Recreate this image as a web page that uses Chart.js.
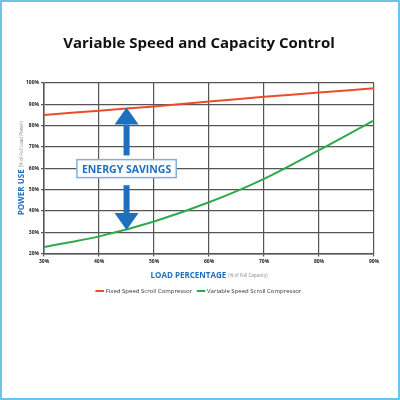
<!DOCTYPE html>
<html>
<head>
<script src="https://cdn.jsdelivr.net/npm/chart.js@4"></script>
<style>
  html, body { margin: 0; padding: 0; background: #fff; }
  #wrap { position: relative; width: 396px; height: 396px; border: 2px solid #6cc3ec; }
</style>
</head>
<body>
<div id="wrap"><canvas id="chart" width="396" height="396"></canvas></div>
<script>
const loadLabels = [30, 40, 50, 60, 70, 80, 90];
const fixedSpeed = [85, 87, 89, 91.3, 93.5, 95.5, 97.5];
const variableSpeed = [23, 28, 35, 44, 55, 68.5, 82.5];

const blue = "#1f6fc0";

// axis titles, arrows and the "energy savings" box
const extras = {
  id: "extras",
  afterDraw(chart) {
    const { ctx, scales: { x, y }, chartArea } = chart;
    ctx.save();

    // y axis title
    ctx.translate(chartArea.left - 22, (chartArea.top + chartArea.bottom) / 2);
    ctx.rotate(-Math.PI / 2);
    ctx.textBaseline = "middle";
    const t1 = "POWER USE ";
    const t2 = "(% of Full Load Power)";
    ctx.font = "4.5px 'Open Sans'";
    const w2 = ctx.measureText(t2).width;
    ctx.font = "bold 8px 'Open Sans'";
    const w1 = ctx.measureText(t1).width;
    let sx = -(w1 + w2) / 2;
    ctx.fillStyle = blue;
    ctx.fillText(t1, sx, 0);
    ctx.font = "4.5px 'Open Sans'";
    ctx.fillStyle = "#888";
    ctx.fillText(t2, sx + w1, 0);
    ctx.setTransform(1, 0, 0, 1, 0, 0);

    // x axis title
    const xt1 = "LOAD PERCENTAGE ";
    const xt2 = "(% of Full Capacity)";
    ctx.font = "bold 8px 'Open Sans'";
    const xw1 = ctx.measureText(xt1).width;
    ctx.font = "4.5px 'Open Sans'";
    const xw2 = ctx.measureText(xt2).width;
    let xs = (chartArea.left + chartArea.right) / 2 - (xw1 + xw2) / 2;
    const yy = chartArea.bottom + 22;
    ctx.font = "bold 8px 'Open Sans'";
    ctx.fillStyle = blue;
    ctx.fillText(xt1, xs, yy);
    ctx.font = "4.5px 'Open Sans'";
    ctx.fillStyle = "#888";
    ctx.fillText(xt2, xs + xw1, yy);

    // arrows
    const ax = x.getPixelForValue(45);
    ctx.fillStyle = blue;
    function arrow(yTip, yEnd) {
      const dir = yEnd > yTip ? 1 : -1;
      const head = 17;
      ctx.fillRect(ax - 3, Math.min(yTip + dir * head, yEnd), 6, Math.abs(yEnd - yTip) - head);
      ctx.beginPath();
      ctx.moveTo(ax, yTip);
      ctx.lineTo(ax - 12, yTip + dir * head);
      ctx.lineTo(ax + 12, yTip + dir * head);
      ctx.closePath();
      ctx.fill();
    }
    arrow(y.getPixelForValue(88.5), y.getPixelForValue(66));
    arrow(y.getPixelForValue(31), y.getPixelForValue(52));

    // energy savings box
    const bx = x.getPixelForValue(45), by = y.getPixelForValue(59.8);
    ctx.font = "bold 10.5px 'Open Sans'";
    const label = "ENERGY SAVINGS";
    const lw = ctx.measureText(label).width + 10;
    ctx.fillStyle = "#fff";
    ctx.fillRect(bx - lw / 2, by - 9, lw, 18);
    ctx.strokeStyle = "#7fb0de";
    ctx.lineWidth = 1.5;
    ctx.strokeRect(bx - lw / 2, by - 9, lw, 18);
    ctx.fillStyle = blue;
    ctx.textAlign = "center";
    ctx.textBaseline = "middle";
    ctx.fillText(label, bx, by + 1);
    ctx.restore();
  }
};

new Chart(document.getElementById("chart"), {
  type: "line",
  data: {
    labels: loadLabels,
    datasets: [
      { label: "Fixed Speed Scroll Compressor", data: fixedSpeed, borderColor: "#ee4b2b", backgroundColor: "#ee4b2b", borderWidth: 2, pointRadius: 0, tension: 0.4 },
      { label: "Variable Speed Scroll Compressor", data: variableSpeed, borderColor: "#2eaa4a", backgroundColor: "#2eaa4a", borderWidth: 2, pointRadius: 0, tension: 0.4 }
    ]
  },
  options: {
    responsive: false,
    animation: false,
    layout: { padding: { left: 22, right: 24, top: 0, bottom: 94 } },
    plugins: {
      title: {
        display: true,
        text: "Variable Speed and Capacity Control",
        color: "#111",
        font: { family: "'Open Sans'", size: 15, weight: "bold" },
        padding: { top: 33, bottom: 30 }
      },
      legend: {
        position: "bottom",
        labels: {
          usePointStyle: true,
          pointStyle: "line",
          boxWidth: 14,
          color: "#333",
          font: { family: "'Open Sans'", size: 6 },
          padding: 6
        }
      },
      tooltip: { enabled: false }
    },
    scales: {
      x: {
        type: "linear",
        min: 30, max: 90,
        title: { display: true, text: " ", font: { size: 8 }, padding: { top: 3, bottom: 3 } },
        grid: { color: "#555", lineWidth: 1.2, tickLength: 3 },
        border: { color: "#555", width: 1.5 },
        ticks: { stepSize: 10, color: "#222", font: { family: "'Open Sans'", size: 5, weight: "bold" }, callback: v => v + "%", padding: 2 }
      },
      y: {
        min: 20, max: 100,
        grid: { color: "#555", lineWidth: 1.2, tickLength: 3 },
        border: { color: "#555", width: 1.5 },
        ticks: { stepSize: 10, color: "#222", font: { family: "'Open Sans'", size: 5, weight: "bold" }, callback: v => v + "%", padding: 2 }
      }
    }
  },
  plugins: [extras]
});
</script>
</body>
</html>
